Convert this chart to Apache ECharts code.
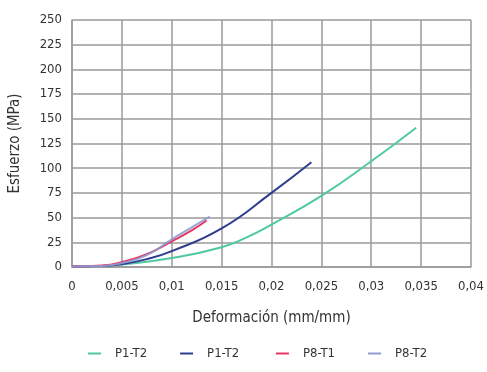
<!DOCTYPE html>
<html>
<head>
<meta charset="utf-8">
<script src="https://cdn.jsdelivr.net/npm/echarts@6/dist/echarts.min.js"></script>
<style>
  html, body { margin: 0; padding: 0; background: #fff; }
  #chart { width: 487px; height: 372px; }
</style>
</head>
<body>
<div id="chart"></div>
<script>
// datos (deformacion, esfuerzo)
const seriesNames = ['P1-T2', 'P1-T2 ', 'P8-T1', 'P8-T2'];
const p1t2a = [[0, 0.5], [0.003, 1], [0.005, 2.5], [0.01, 9], [0.015, 20], [0.0175, 30], [0.02, 43], [0.025, 72], [0.03, 107], [0.0345, 141]];
const p1t2b = [[0, 0.5], [0.003, 1], [0.005, 3], [0.0075, 8], [0.01, 16], [0.015, 39], [0.02, 75], [0.024, 106]];
const p8t1 = [[0, 0.5], [0.003, 1.5], [0.005, 5], [0.0075, 13], [0.01, 26], [0.012, 37], [0.0135, 47]];
const p8t2 = [[0, 0.5], [0.003, 1], [0.005, 4], [0.0075, 12], [0.01, 28], [0.012, 40], [0.0138, 51]];
const colors = ['#4fc9a0', '#2e3d8f', '#e8375f', '#8e9bd4'];

let chart = echarts.init(document.getElementById('chart'));
const font = '"Liberation Sans Narrow", "DejaVu Sans Condensed", sans-serif';

function line(name, data, color, opacity) {
  return {
    name: name,
    type: 'line',
    data: data,
    smooth: 0.5,
    symbol: 'none',
    lineStyle: { color: color, width: 2, opacity: opacity },
    itemStyle: { color: color }
  };
}

let option = {
  animation: false,
  grid: { left: 71, right: 16, top: 20, bottom: 105 },
  xAxis: {
    type: 'value',
    min: 0, max: 0.04, interval: 0.005,
    name: 'Deformación (mm/mm)',
    nameLocation: 'middle',
    nameGap: 44,
    nameTextStyle: { color: '#333', fontSize: 15, fontFamily: font },
    axisLine: { show: true, lineStyle: { color: '#9a9a9a', width: 1.5 } },
    axisTick: { show: false },
    axisLabel: {
      color: '#333', fontSize: 13, fontFamily: font, margin: 13,
      formatter: v => String(+v.toFixed(3)).replace('.', ',')
    },
    splitLine: { show: true, lineStyle: { color: '#9a9a9a', width: 1.5 } }
  },
  yAxis: {
    type: 'value',
    min: 0, max: 250, interval: 25,
    name: 'Esfuerzo (MPa)',
    nameLocation: 'middle',
    nameGap: 49,
    nameTextStyle: { color: '#333', fontSize: 15, fontFamily: font },
    axisLine: { show: true, lineStyle: { color: '#9a9a9a', width: 1.5 } },
    axisTick: { show: false },
    axisLabel: { color: '#333', fontSize: 13, fontFamily: font, margin: 10 },
    splitLine: { show: true, lineStyle: { color: '#9a9a9a', width: 1.5 } }
  },
  legend: {
    bottom: 12,
    left: 88,
    padding: 0,
    itemWidth: 13,
    itemHeight: 2,
    itemGap: 33,
    icon: 'rect',
    textStyle: { color: '#333', fontSize: 13, fontFamily: font, padding: [0, 0, 0, 9] },
    data: seriesNames
  },
  series: [
    line(seriesNames[0], p1t2a, colors[0], 1),
    line(seriesNames[1], p1t2b, colors[1], 1),
    line(seriesNames[2], p8t1, colors[2], 1),
    line(seriesNames[3], p8t2, colors[3], 0.9)
  ]
};
chart.setOption(option);
</script>
</body>
</html>
